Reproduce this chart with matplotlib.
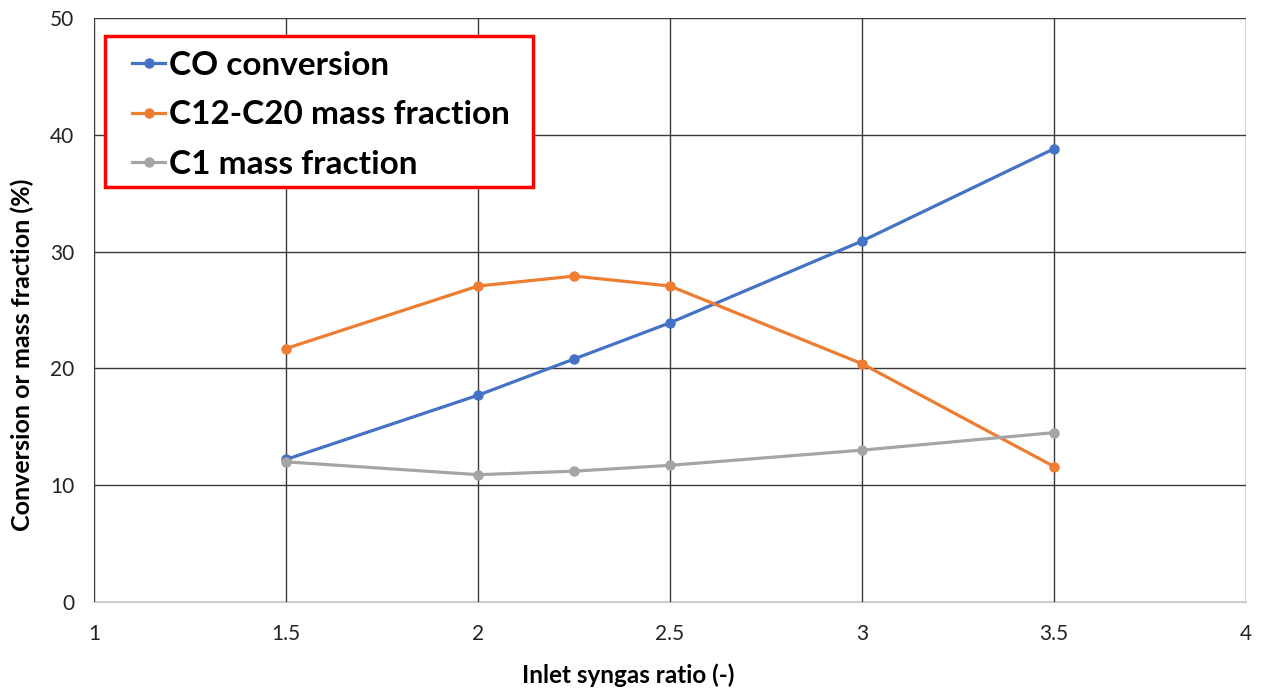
import matplotlib.pyplot as plt
from matplotlib.patches import Rectangle

# inlet H2/CO ratio and the measured responses (%)
syngas_ratio = [1.5, 2.0, 2.25, 2.5, 3.0, 3.5]
co_conversion = [12.2, 17.7, 20.8, 23.9, 30.9, 38.8]
c12_c20_fraction = [21.7, 27.05, 27.9, 27.05, 20.4, 11.6]
c1_fraction = [12.0, 10.9, 11.2, 11.7, 13.0, 14.5]

series_labels = ["CO conversion", "C12-C20 mass fraction", "C1 mass fraction"]
colors = ["#4472C4", "#ED7D31", "#A5A5A5"]

x_ticks = [1, 1.5, 2, 2.5, 3, 3.5, 4]
x_tick_labels = ["1", "1.5", "2", "2.5", "3", "3.5", "4"]
y_ticks = [0, 10, 20, 30, 40, 50]

plt.rcParams['font.family'] = ['Lato', 'DejaVu Sans']

fig = plt.figure(figsize=(12.63, 6.91), dpi=100)
ax = fig.add_axes([0.0744, 0.1288, 0.9121, 0.8452])

for values, label, color in zip([co_conversion, c12_c20_fraction, c1_fraction], series_labels, colors):
	ax.plot(syngas_ratio, values, color=color, linewidth=2.3, marker='o',
		markersize=6.5, label=label, zorder=3)

ax.set_xlim(1, 4)
ax.set_ylim(0, 50)
ax.set_xticks(x_ticks)
ax.set_xticklabels(x_tick_labels)
ax.set_yticks(y_ticks)

ax.grid(True, color="#3a3a3a", linewidth=1.0, zorder=0)
for side in ['top', 'right']:
	ax.spines[side].set_visible(False)
ax.spines['left'].set_color("#c8c8c8")
ax.spines['bottom'].set_color("#c8c8c8")
ax.spines['left'].set_zorder(1)
ax.spines['bottom'].set_zorder(1)

ax.tick_params(axis='both', length=0, labelsize=15, colors="#222222")
ax.tick_params(axis='x', pad=16)
ax.tick_params(axis='y', pad=14)

ax.set_xlabel("Inlet syngas ratio (-)", fontsize=17.5, fontweight='bold')
ax.set_ylabel("Conversion or mass fraction (%)", fontsize=18, fontweight='bold')
ax.xaxis.set_label_coords(0.4635, -0.105)
ax.yaxis.label.set_va('center')
ax.yaxis.set_label_coords(-0.0625, 0.423)

# red box behind the legend entries
box = Rectangle((0.0095, 0.7106), 0.3715, 0.2586, transform=ax.transAxes,
	facecolor='white', edgecolor='#ff0000', linewidth=2.5, zorder=4)
ax.add_patch(box)

leg = ax.legend(loc='upper left', bbox_to_anchor=(0.033, 0.944), borderaxespad=0,
	frameon=False, prop={'size': 24, 'weight': 'bold'},
	handlelength=1.0, handletextpad=0.1, labelspacing=0.62, borderpad=0)
leg.set_zorder(5)

fig.savefig("out.png", dpi=100)
